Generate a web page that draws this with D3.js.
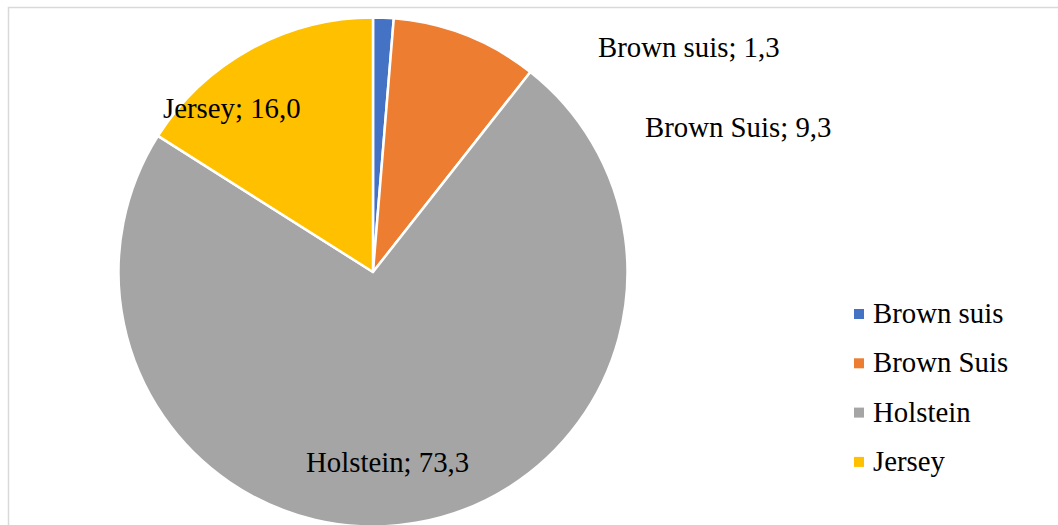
<!DOCTYPE html>
<html>
<head>
<meta charset="utf-8">
<script src="https://cdn.jsdelivr.net/npm/d3@7"></script>
<style>
  html, body { margin: 0; padding: 0; background: #fff; }
  svg { display: block; }
</style>
</head>
<body>
<svg id="chart" width="1058" height="525"></svg>
<script>
const categories = ["Brown suis", "Brown Suis", "Holstein", "Jersey"];
const values = [1.3, 9.3, 73.3, 16.0];
const valueLabels = ["1,3", "9,3", "73,3", "16,0"];
const colors = ["#4472C4", "#ED7D31", "#A5A5A5", "#FFC000"];

// layout (label anchor positions: left x, baseline y)
const labelLayout = [
  { x: 598, y: 57 },
  { x: 645, y: 137 },
  { x: 306, y: 472 },
  { x: 163, y: 118 }
];

const FONT = "'Liberation Serif', 'Times New Roman', Times, 'DejaVu Serif', serif";
const FS = "28.8px";

const svg = d3.select("#chart");
const W = 1058, H = 525;

// chart border
svg.append("rect")
  .attr("x", 8.5).attr("y", 7.5)
  .attr("width", W + 10).attr("height", H + 10)
  .attr("fill", "#fff")
  .attr("stroke", "#d9d9d9")
  .attr("stroke-width", 1.5);

const cx = 373, cy = 272, r = 254.5;

const pie = d3.pie().sort(null).value(d => d)
  .startAngle(0).endAngle(2 * Math.PI);
const arc = d3.arc().innerRadius(0).outerRadius(r);

const g = svg.append("g").attr("transform", `translate(${cx},${cy})`);
g.selectAll("path")
  .data(pie(values))
  .join("path")
  .attr("d", arc)
  .attr("fill", (d, i) => colors[i])
  .attr("stroke", "#fff")
  .attr("stroke-width", 2.5)
  .attr("stroke-linejoin", "round");

// data labels
svg.selectAll("text.lbl")
  .data(categories)
  .join("text")
  .attr("class", "lbl")
  .attr("x", (d, i) => labelLayout[i].x)
  .attr("y", (d, i) => labelLayout[i].y)
  .style("font-family", FONT)
  .style("font-size", FS)
  .style("fill", "#000")
  .text((d, i) => `${d}; ${valueLabels[i]}`);

// legend
const legend = svg.append("g").attr("transform", "translate(854,314)");
const rows = legend.selectAll("g")
  .data(categories)
  .join("g")
  .attr("transform", (d, i) => `translate(0,${i * 49.3})`);
rows.append("rect")
  .attr("x", 0).attr("y", -5)
  .attr("width", 10).attr("height", 10)
  .attr("fill", (d, i) => colors[i]);
rows.append("text")
  .attr("x", 19).attr("y", 9)
  .style("font-family", FONT)
  .style("font-size", FS)
  .style("fill", "#000")
  .text(d => d);
</script>
</body>
</html>
